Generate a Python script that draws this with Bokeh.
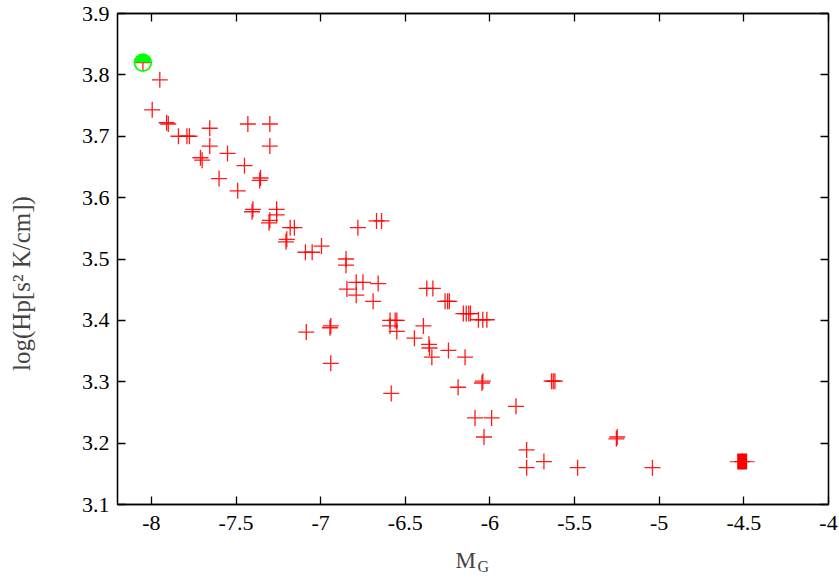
import math
from bokeh.plotting import figure
from bokeh.models import Range1d, LinearAxis, FixedTicker, Label
from bokeh.embed import file_html
from bokeh.resources import INLINE

# ---- data ----
mg = [-8.05, -7.95, -7.995, -7.90, -7.91, -7.84, -7.79, -7.775, -7.655, -7.43,
      -7.30, -7.655, -7.30, -7.70, -7.71, -7.55, -7.45, -7.60, -7.355, -7.36,
      -7.49, -7.40, -7.405, -7.26, -7.26, -7.30, -7.305, -7.18, -7.155, -7.20,
      -7.205, -7.09, -7.05, -6.995, -6.85, -6.85, -6.78, -6.67, -6.64, -6.79,
      -6.75, -6.66, -6.845, -6.79, -6.69, -7.085, -6.94, -6.945, -6.94, -6.59,
      -6.56, -6.55, -6.59, -6.55, -6.583, -6.373, -6.337, -6.265, -6.25, -6.24,
      -6.157, -6.14, -6.125, -6.115, -6.068, -6.042, -6.018, -6.393, -6.446, -6.36,
      -6.357, -6.343, -6.245, -6.147, -6.042, -6.047, -6.188, -5.636, -5.626, -5.616,
      -5.846, -6.088, -5.99, -6.035, -5.248, -5.253, -5.783, -5.681, -5.783, -5.482,
      -5.04, -4.51]
loghp = [3.82, 3.792, 3.743, 3.72, 3.722, 3.70, 3.70, 3.70, 3.713, 3.72,
         3.72, 3.684, 3.684, 3.661, 3.665, 3.672, 3.652, 3.631, 3.632, 3.628,
         3.611, 3.581, 3.577, 3.581, 3.572, 3.563, 3.559, 3.551, 3.551, 3.532,
         3.528, 3.511, 3.511, 3.521, 3.50, 3.49, 3.551, 3.562, 3.562, 3.462,
         3.462, 3.460, 3.451, 3.441, 3.431, 3.381, 3.391, 3.388, 3.330, 3.40,
         3.40, 3.40, 3.391, 3.382, 3.281, 3.452, 3.452, 3.431, 3.431, 3.431,
         3.411, 3.411, 3.411, 3.411, 3.401, 3.401, 3.401, 3.391, 3.371, 3.361,
         3.355, 3.340, 3.351, 3.340, 3.301, 3.298, 3.291, 3.301, 3.301, 3.301,
         3.260, 3.241, 3.241, 3.210, 3.210, 3.207, 3.189, 3.170, 3.160, 3.160,
         3.160, 3.170]

# highlighted stars
hot_mg = [-8.05]
hot_hp = [3.82]
cool_mg = [-4.51]
cool_hp = [3.17]

x_ticks = [-8, -7.5, -7, -6.5, -6, -5.5, -5, -4.5, -4]
x_tick_labels = ["-8", "-7.5", "-7", "-6.5", "-6", "-5.5", "-5", "-4.5", "-4"]
y_ticks = [3.1, 3.2, 3.3, 3.4, 3.5, 3.6, 3.7, 3.8, 3.9]
y_tick_labels = ["3.1", "3.2", "3.3", "3.4", "3.5", "3.6", "3.7", "3.8", "3.9"]

x_title = "M"
x_title_sub = "G"
y_title = "log(Hp[s\u00b2 K/cm])"

FONT = "Liberation Serif"
FS = "22px"

W, H = 839, 581
p = figure(width=W, height=H, output_backend="svg", toolbar_location=None,
           x_range=Range1d(-8.2, -4), y_range=Range1d(3.1, 3.9),
           min_border_left=117, min_border_right=11, min_border_top=13,
           min_border_bottom=77)
p.grid.visible = False
p.outline_line_color = "black"
p.outline_line_width = 1.3
p.background_fill_color = "white"
p.border_fill_color = "white"

def style_axis(ax, ticks, labels, show_labels):
    ax.ticker = FixedTicker(ticks=ticks)
    ax.major_label_overrides = {t: l for t, l in zip(ticks, labels)}
    ax.minor_tick_line_color = None
    ax.major_tick_in = 8
    ax.major_tick_out = 0
    ax.major_tick_line_width = 1.3
    ax.major_tick_line_color = "black"
    ax.axis_line_color = "black"
    ax.axis_line_width = 1.3
    ax.major_label_text_font = FONT
    ax.major_label_text_font_size = FS if show_labels else "1px"
    ax.major_label_text_color = "black" if show_labels else None
    ax.major_label_standoff = 8 if show_labels else 0

style_axis(p.xaxis[0], x_ticks, x_tick_labels, True)
style_axis(p.yaxis[0], y_ticks, y_tick_labels, True)
p.xaxis[0].major_label_standoff = 11
p.yaxis[0].major_label_standoff = 8

top_ax = LinearAxis()
right_ax = LinearAxis()
style_axis(top_ax, x_ticks, x_tick_labels, False)
style_axis(right_ax, y_ticks, y_tick_labels, False)
p.add_layout(top_ax, "above")
p.add_layout(right_ax, "right")

# all points as crosses
p.scatter(mg, loghp, marker="cross", size=16, line_color="#ff0000",
          line_width=1.3, line_alpha=0.9)

# hottest star: half-filled green circle
p.wedge(hot_mg, hot_hp, radius=8, radius_units="screen", start_angle=0,
        end_angle=math.pi, fill_color="#00ff00", line_color=None)
p.scatter(hot_mg, hot_hp, marker="circle", size=17, fill_color=None,
          line_color="#00ff00", line_width=1.6)

# coolest star: filled red box
p.scatter(cool_mg, cool_hp, marker="dash", size=25, line_color="#ff0000",
          line_width=1.3, line_alpha=0.7)
p.rect(cool_mg, cool_hp, width=10, height=16, width_units="screen",
       height_units="screen", fill_color="#ff0000", line_color=None)

# axis titles, placed in canvas pixels inside the side panels (not clipped)
p.add_layout(Label(x=455, y=560, x_units="canvas", y_units="canvas",
                   text=x_title, text_font=FONT, text_font_size="23px",
                   text_baseline="alphabetic", text_align="left"), "below")
p.add_layout(Label(x=477, y=566, x_units="canvas", y_units="canvas",
                   text=x_title_sub, text_font=FONT, text_font_size="16px",
                   text_baseline="alphabetic", text_align="left"), "below")
p.add_layout(Label(x=21, y=283, x_units="canvas", y_units="canvas",
                   text=y_title, text_font=FONT, text_font_size="25px",
                   angle=math.pi / 2, text_align="center",
                   text_baseline="middle"), "left")

open("out.html", "w").write(file_html(p, INLINE))
